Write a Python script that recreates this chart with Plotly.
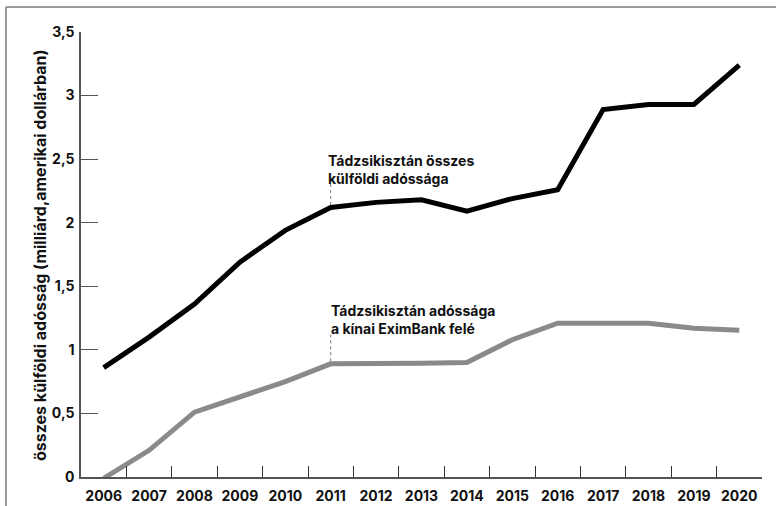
import plotly.graph_objects as go

years = ["2006", "2007", "2008", "2009", "2010", "2011", "2012", "2013",
         "2014", "2015", "2016", "2017", "2018", "2019", "2020"]
total_debt = [0.86, 1.10, 1.36, 1.69, 1.94, 2.12, 2.16, 2.18,
              2.09, 2.19, 2.26, 2.89, 2.93, 2.93, 3.24]
exim_debt = [-0.01, 0.21, 0.51, 0.63, 0.75, 0.89, 0.89, 0.895,
             0.90, 1.08, 1.21, 1.21, 1.21, 1.17, 1.155]
y_tickvals = [0, 0.5, 1, 1.5, 2, 2.5, 3, 3.5]
y_ticktext = ["0", "0,5", "1", "1,5", "2", "2,5", "3", "3,5"]

label_total = "Tádzsikisztán összes<br>külföldi adóssága"
label_exim = "Tádzsikisztán adóssága<br>a kínai EximBank felé"
y_title = "összes külföldi adósság (milliárd,amerikai dollárban)"

FONT = "Inter"
W, H = 776, 506
L, R, T, B = 81, 14, 32, 29

fig = go.Figure()
fig.add_trace(go.Scatter(x=years, y=exim_debt, mode="lines",
                         line=dict(color="#8a8a8a", width=5),
                         cliponaxis=False, showlegend=False))
fig.add_trace(go.Scatter(x=years, y=total_debt, mode="lines",
                         line=dict(color="#000000", width=5),
                         cliponaxis=False, showlegend=False))

i11 = years.index("2011")  # category index for annotations

# annotation leader lines
fig.add_shape(type="line", x0=i11, x1=i11, y0=total_debt[i11] + 0.02, y1=2.33,
              xref="x", yref="y", line=dict(color="#777777", width=1, dash="dot"))
fig.add_shape(type="line", x0=i11, x1=i11, y0=exim_debt[i11] + 0.02, y1=1.12,
              xref="x", yref="y", line=dict(color="#777777", width=1, dash="dot"))

fig.add_annotation(x=i11, y=2.57, xref="x", yref="y", text=label_total,
                   showarrow=False, xanchor="left", yanchor="top", align="left",
                   xshift=-5, font=dict(family=FONT, size=14, color="#111111", weight="bold"))
fig.add_annotation(x=i11, y=1.39, xref="x", yref="y", text=label_exim,
                   showarrow=False, xanchor="left", yanchor="top", align="left",
                   xshift=-2, font=dict(family=FONT, size=14, color="#111111", weight="bold"))

# y-axis title
pw = W - L - R
ph = H - T - B
fig.add_annotation(x=(40 - L) / pw, y=(H - B - 256) / ph, xref="paper", yref="paper",
                   text=y_title, textangle=-90, showarrow=False,
                   xanchor="center", yanchor="middle",
                   font=dict(family=FONT, size=16, color="#111111", weight="bold"))

# frame lines (left and top)
fx0 = (6 - L) / pw
fy_top = (H - B - 7) / ph
fy_bot = (H - B - H) / ph
fx_right = (W - L) / pw
fig.add_shape(type="line", xref="paper", yref="paper", x0=fx0, x1=fx0, y0=fy_bot, y1=fy_top,
              line=dict(color="#7a7a7a", width=1.5))
fig.add_shape(type="line", xref="paper", yref="paper", x0=fx0, x1=fx_right, y0=fy_top, y1=fy_top,
              line=dict(color="#7a7a7a", width=1.5))

fig.update_layout(
    width=W, height=H,
    margin=dict(l=L, r=R, t=T, b=B, pad=0),
    plot_bgcolor="white", paper_bgcolor="white",
    font=dict(family=FONT, size=14, color="#111111"),
    xaxis=dict(type="category", range=[-0.5, 14.5], tickson="boundaries",
               ticks="inside", ticklen=11, tickcolor="#333333", tickwidth=1.2,
               showline=True, linecolor="#555555", linewidth=1.5,
               showgrid=False, zeroline=False, ticklabelstandoff=5,
               tickangle=0, automargin=False,
               tickfont=dict(family=FONT, size=14, color="#111111", weight="bold")),
    yaxis=dict(range=[0, 3.5], tickvals=y_tickvals, ticktext=y_ticktext,
               ticks="inside", ticklen=17, tickcolor="#555555", tickwidth=1.2,
               showline=True, linecolor="#555555", linewidth=1.5,
               showgrid=False, zeroline=False, ticklabelstandoff=2,
               automargin=False,
               tickfont=dict(family=FONT, size=14, color="#111111", weight="bold")),
)

fig.write_html("out.html", config={"displayModeBar": False},
               post_script="document.body.style.margin='0';")
